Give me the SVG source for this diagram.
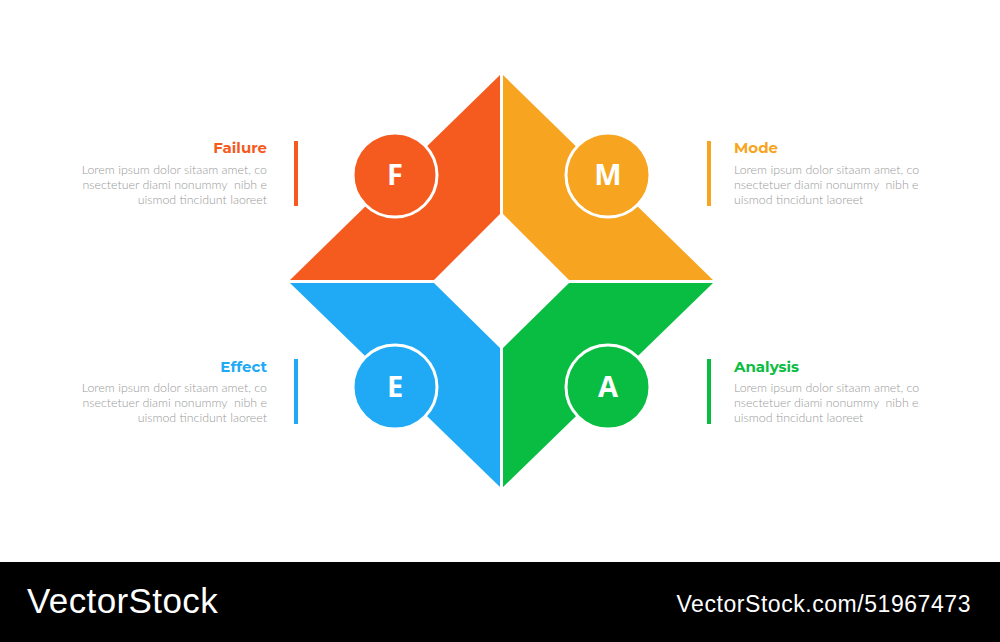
<svg xmlns="http://www.w3.org/2000/svg" width="1000" height="642" viewBox="0 0 1000 642">
<style>
.t{font-family:Montserrat,"Open Sans",Lato,sans-serif;font-weight:700;font-size:15px}
.b{font-family:Lato,"Liberation Sans",sans-serif;font-weight:300;font-size:12.4px;fill:#9a9a9a;white-space:pre}
.l{font-family:"Open Sans","Liberation Sans",sans-serif;font-weight:700;font-size:29px;fill:#fff;text-anchor:middle}
.c{stroke:#fff;stroke-width:3}
.r{text-anchor:end}
</style>
<rect width="1000" height="642" fill="#fff"/>
<g id="F">
<polygon points="500,75 290,280 434,280 500,214" fill="#F55A1F"/>
<circle class="c" cx="395" cy="175" r="42" fill="#F55A1F"/>
<text class="l" x="395" y="185">F</text>
<rect x="294" y="141" width="4" height="65" fill="#F55A1F"/>
<text class="t r" x="267" y="153" fill="#F55A1F">Failure</text>
<text class="b r" x="267" y="174">Lorem ipsum dolor sitaam amet, co</text>
<text class="b r" x="267" y="189" xml:space="preserve">nsectetuer diami nonummy  nibh e</text>
<text class="b r" x="267" y="204">uismod tincidunt laoreet</text>
</g>
<g id="M">
<polygon points="503,75 713,280 569,280 503,214" fill="#F7A520"/>
<circle class="c" cx="608" cy="175" r="42" fill="#F7A520"/>
<text class="l" x="608" y="185">M</text>
<rect x="707" y="141" width="4" height="65" fill="#F7A520"/>
<text class="t" x="734" y="153" fill="#F7A520">Mode</text>
<text class="b" x="734" y="174">Lorem ipsum dolor sitaam amet, co</text>
<text class="b" x="734" y="189" xml:space="preserve">nsectetuer diami nonummy  nibh e</text>
<text class="b" x="734" y="204">uismod tincidunt laoreet</text>
</g>
<g id="E">
<polygon points="290,283 434,283 500,348 500,487" fill="#20AAF5"/>
<circle class="c" cx="395" cy="387" r="42" fill="#20AAF5"/>
<text class="l" x="395" y="397">E</text>
<rect x="294" y="359" width="4" height="65" fill="#20AAF5"/>
<text class="t r" x="267" y="372" fill="#20AAF5">Effect</text>
<text class="b r" x="267" y="392">Lorem ipsum dolor sitaam amet, co</text>
<text class="b r" x="267" y="407" xml:space="preserve">nsectetuer diami nonummy  nibh e</text>
<text class="b r" x="267" y="422">uismod tincidunt laoreet</text>
</g>
<g id="A">
<polygon points="713,283 569,283 503,348 503,487" fill="#08BD41"/>
<circle class="c" cx="608" cy="387" r="42" fill="#08BD41"/>
<text class="l" x="608" y="397">A</text>
<rect x="707" y="359" width="4" height="65" fill="#08BD41"/>
<text class="t" x="734" y="372" fill="#08BD41">Analysis</text>
<text class="b" x="734" y="392">Lorem ipsum dolor sitaam amet, co</text>
<text class="b" x="734" y="407" xml:space="preserve">nsectetuer diami nonummy  nibh e</text>
<text class="b" x="734" y="422">uismod tincidunt laoreet</text>
</g>
<g id="connectors"></g>
<g id="footer">
<rect x="0" y="562" width="1000" height="80" fill="#000"/>
<text x="27" y="613" font-family="'Liberation Sans',Arial,sans-serif" font-size="35" fill="#fff" letter-spacing="0.4">VectorStock</text>
<text x="971" y="612" text-anchor="end" font-family="'Liberation Sans',Arial,sans-serif" font-size="23" fill="#fff" letter-spacing="0.55">VectorStock.com/51967473</text>
</g>
</svg>
